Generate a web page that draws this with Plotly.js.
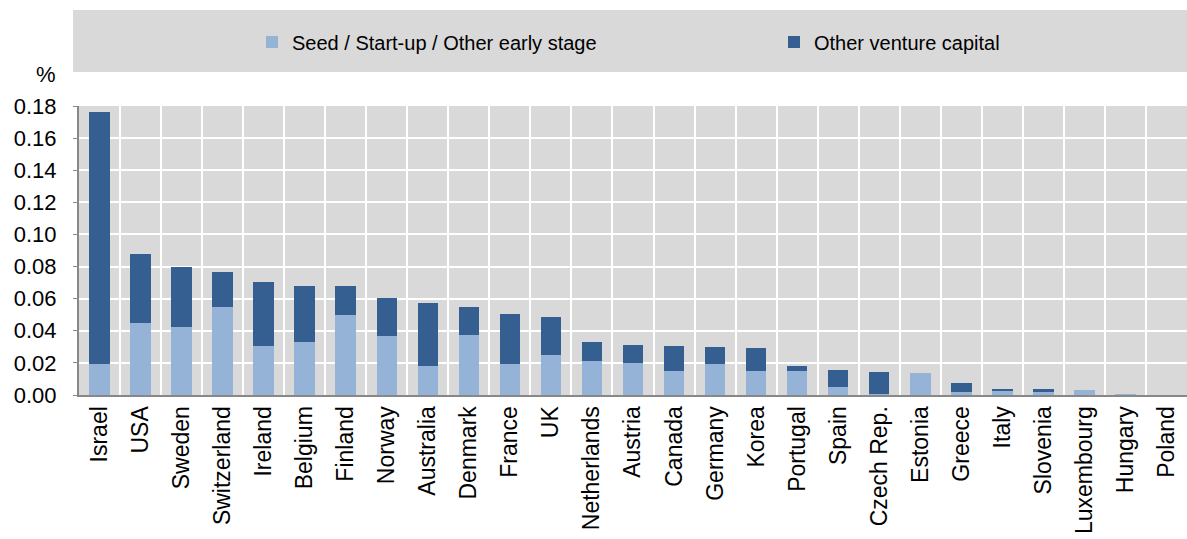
<!DOCTYPE html>
<html>
<head>
<meta charset="utf-8">
<script src="https://cdn.plot.ly/plotly-3.0.1.min.js"></script>
<style>html,body{margin:0;padding:0;background:#fff;}#chart{width:1187px;height:539px;}</style>
</head>
<body>
<div id="chart"></div>
<script>
const countries = ["Israel","USA","Sweden","Switzerland","Ireland","Belgium","Finland","Norway","Australia","Denmark","France","UK","Netherlands","Austria","Canada","Germany","Korea","Portugal","Spain","Czech Rep.","Estonia","Greece","Italy","Slovenia","Luxembourg","Hungary","Poland"];
const seedEarly = [0.0191,0.0449,0.0422,0.0549,0.0308,0.0333,0.0497,0.0368,0.0179,0.0376,0.0195,0.0250,0.0214,0.0200,0.0152,0.0191,0.0150,0.0147,0.0052,0.0005,0.0139,0.0017,0.0027,0.0021,0.0033,0.0008,0.0];
const totalVC = [0.176,0.088,0.0798,0.0769,0.0701,0.0682,0.0682,0.0603,0.0570,0.0551,0.0505,0.0488,0.0333,0.0309,0.0306,0.0297,0.0295,0.0179,0.0158,0.0143,0.0139,0.0077,0.0039,0.0039,0.0033,0.0008,0.0];
const otherVC = totalVC.map((t,i)=>Math.max(0, +(t - seedEarly[i]).toFixed(4)));
const seriesNames = ["Seed / Start-up / Other early stage","Other venture capital"];
const yTicks = [0,0.02,0.04,0.06,0.08,0.10,0.12,0.14,0.16,0.18];

const traces = [
  {type:'bar', name:seriesNames[0], x:countries, y:seedEarly, marker:{color:'#95B3D7'}, legend:'legend'},
  {type:'bar', name:seriesNames[1], x:countries, y:otherVC, marker:{color:'#355F91'}, legend:'legend2'}
];
const legBase = {orientation:'h', xanchor:'left', yanchor:'middle', xref:'paper', yref:'paper',
  bgcolor:'rgba(0,0,0,0)', font:{size:20}};
const layout = {
  width:1187, height:539,
  font:{family:'"Liberation Sans", Arial, sans-serif', color:'#000'},
  barmode:'stack', bargap:0.5,
  paper_bgcolor:'#fff', plot_bgcolor:'#D9D9D9',
  margin:{l:79, r:0, t:106, b:144, pad:0},
  xaxis:{type:'category', tickangle:-90, tickfont:{size:23}, showline:true, linecolor:'#888', linewidth:2,
         showgrid:true, gridcolor:'#fff', gridwidth:2, tickson:'boundaries', ticks:'', ticklen:0, automargin:false},
  yaxis:{range:[0,0.18], tickvals:yTicks, ticktext:yTicks.map(v=>v.toFixed(2)), tickfont:{size:22},
         showline:true, linecolor:'#888', linewidth:2, ticks:'outside', ticklen:4, tickcolor:'#888', ticklabelstandoff:12,
         gridcolor:'#fff', gridwidth:2, zeroline:false, automargin:false},
  showlegend:true,
  legend:Object.assign({}, legBase, {x:(252-79)/1108, y:(395-42)/289}),
  legend2:Object.assign({}, legBase, {x:(774-79)/1108, y:(395-42)/289}),
  shapes:[{type:'rect', xref:'paper', yref:'paper', x0:(73-79)/1108, x1:1, y0:(395-72)/289, y1:(395-10)/289,
           fillcolor:'#D9D9D9', line:{width:0}, layer:'below'}],
  annotations:[{text:'%', xref:'paper', yref:'paper', x:(46-79)/1108, y:(395-75)/289, xanchor:'center', yanchor:'middle',
                showarrow:false, font:{size:22}}]
};
Plotly.newPlot('chart', traces, layout, {displayModeBar:false, staticPlot:true});
</script>
</body>
</html>
